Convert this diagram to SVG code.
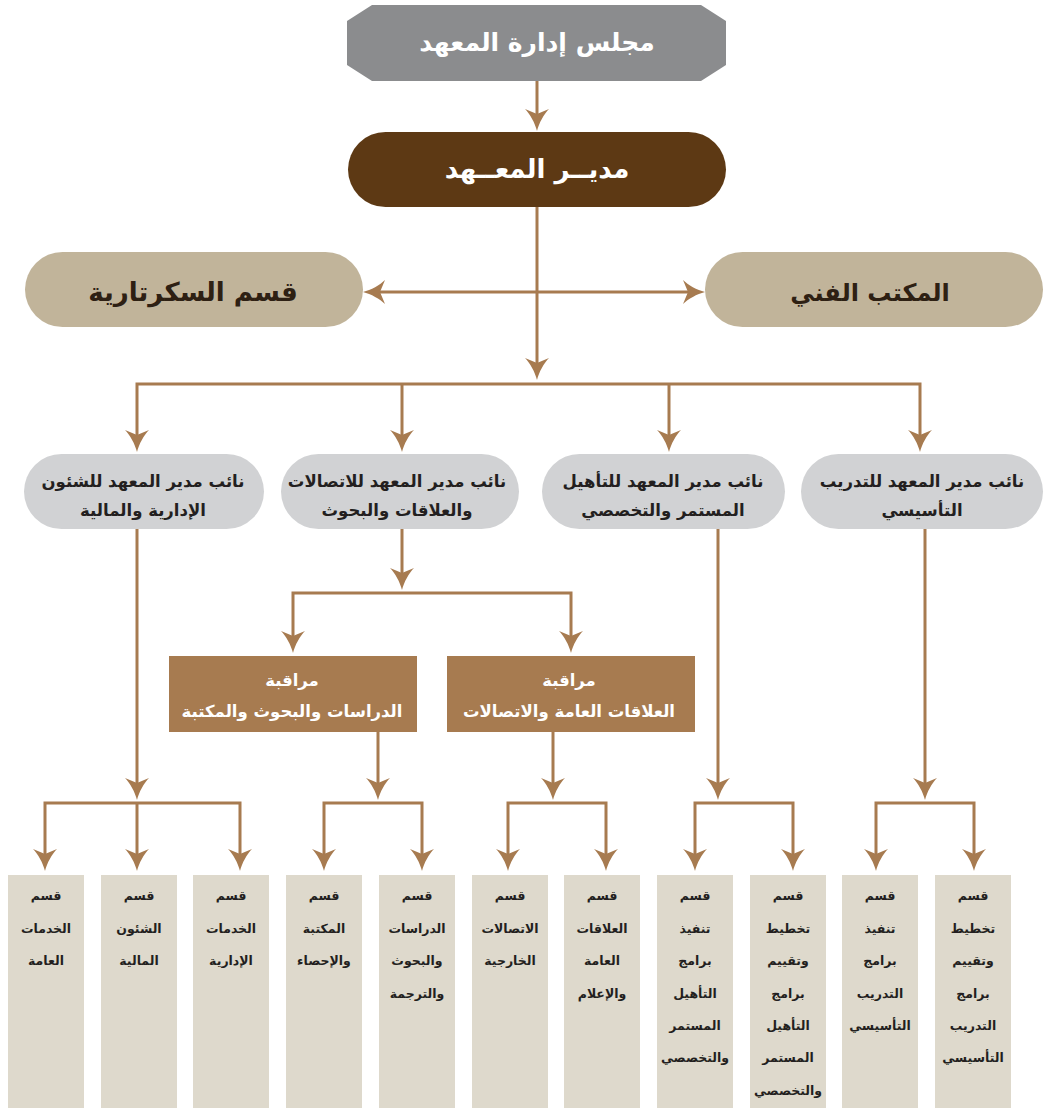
<svg xmlns="http://www.w3.org/2000/svg" width="1046" height="1108" viewBox="0 0 1046 1108">
<style>
.t{font-family:"DejaVu Sans","Noto Sans",sans-serif;font-weight:bold;text-anchor:middle}
.w{fill:#ffffff}
.d{fill:#231f20}
.c{fill:none;stroke:#a77b50;stroke-width:3;stroke-linejoin:miter}
.a{marker-end:url(#ah)}
.s{marker-start:url(#as)}
.bx{fill:#ded9cc}
.bt{font-size:12.5px}
.pt{font-size:16.5px}
.mt{font-size:16.5px}
</style>
<defs>
<marker id="ah" markerUnits="userSpaceOnUse" viewBox="-6 -13 24 26" refX="0" refY="0" markerWidth="24" markerHeight="26" orient="auto">
<path d="M17,0 C9,-2 0,-7 -5,-12 L0,0 L-5,12 C0,7 9,2 17,0 Z" fill="#a77b50"/>
</marker>
<marker id="as" markerUnits="userSpaceOnUse" viewBox="-6 -13 24 26" refX="0" refY="0" markerWidth="24" markerHeight="26" orient="auto-start-reverse">
<path d="M17,0 C9,-2 0,-7 -5,-12 L0,0 L-5,12 C0,7 9,2 17,0 Z" fill="#a77b50"/>
</marker>
</defs>

<g id="connectors">
<path class="c a" d="M537,81 V114"/>
<path class="c a" d="M537,206 V363"/>
<path class="c a s" d="M380,292 H688"/>
<path class="c a s" d="M137,435 V384 H920 V435"/>
<path class="c a" d="M402,384 V435"/>
<path class="c a" d="M669,384 V435"/>
<path class="c a" d="M402,529 V573"/>
<path class="c a s" d="M293,636 V593 H571 V636"/>
<path class="c a" d="M137,529 V783"/>
<path class="c a" d="M378,732 V783"/>
<path class="c a" d="M553,732 V783"/>
<path class="c a" d="M718,529 V783"/>
<path class="c a" d="M925,529 V783"/>
<path class="c a s" d="M45,854 V803 H240 V854"/>
<path class="c a" d="M137,803 V854"/>
<path class="c a s" d="M324,854 V803 H422 V854"/>
<path class="c a s" d="M508,854 V803 H606 V854"/>
<path class="c a s" d="M695,854 V803 H793 V854"/>
<path class="c a s" d="M876,854 V803 H974 V854"/>
</g>

<g id="board">
<polygon points="372,5 701,5 726,21 726,65 701,81 372,81 347,65 347,21" fill="#8b8c8e"/>
<text class="t w" x="537" y="51" font-size="25">مجلس إدارة المعهد</text>
</g>
<g id="director">
<rect x="348" y="132" width="378" height="75" rx="37.5" fill="#5d3914"/>
<text class="t w" x="537" y="178" font-size="26">مديــر المعــهد</text>
</g>
<g id="secretary">
<rect x="25" y="252" width="338" height="75" rx="37.5" fill="#c1b49a"/>
<text class="t" x="193" y="301" font-size="26" fill="#2e2013">قسم السكرتارية</text>
</g>
<g id="technical">
<rect x="705" y="252" width="338" height="75" rx="37.5" fill="#c1b49a"/>
<text class="t" x="870" y="301" font-size="24" fill="#2e2013">المكتب الفني</text>
</g>

<g id="dep-admin">
<rect x="24" y="454" width="240" height="75" rx="37.5" fill="#d1d2d4"/>
<text class="t d pt" x="143" y="487">نائب مدير المعهد للشئون</text>
<text class="t d pt" x="143" y="516">الإدارية والمالية</text>
</g>
<g id="dep-comm">
<rect x="281" y="454" width="238" height="75" rx="37.5" fill="#d1d2d4"/>
<text class="t d pt" x="397" y="487">نائب مدير المعهد للاتصالات</text>
<text class="t d pt" x="397" y="516">والعلاقات والبحوث</text>
</g>
<g id="dep-cont">
<rect x="542" y="454" width="243" height="75" rx="37.5" fill="#d1d2d4"/>
<text class="t d pt" x="663" y="487">نائب مدير المعهد للتأهيل</text>
<text class="t d pt" x="663" y="516">المستمر والتخصصي</text>
</g>
<g id="dep-train">
<rect x="801" y="454" width="242" height="75" rx="37.5" fill="#d1d2d4"/>
<text class="t d pt" x="922" y="487">نائب مدير المعهد للتدريب</text>
<text class="t d pt" x="922" y="516">التأسيسي</text>
</g>

<g id="mon-studies">
<rect x="169" y="656" width="248" height="76" fill="#a77b50"/>
<text class="t w mt" x="292" y="686">مراقبة</text>
<text class="t w mt" x="292" y="717">الدراسات والبحوث والمكتبة</text>
</g>
<g id="mon-relations">
<rect x="447" y="656" width="248" height="76" fill="#a77b50"/>
<text class="t w mt" x="569" y="686">مراقبة</text>
<text class="t w mt" x="569" y="717">العلاقات العامة والاتصالات</text>
</g>

<g id="sec-general">
<rect class="bx" x="8" y="875" width="76" height="233"/>
<text class="t d bt" x="46"><tspan x="46" y="900">قسم</tspan><tspan x="46" y="933">الخدمات</tspan><tspan x="46" y="965">العامة</tspan></text>
</g>
<g id="sec-finance">
<rect class="bx" x="101" y="875" width="76" height="233"/>
<text class="t d bt" x="139"><tspan x="139" y="900">قسم</tspan><tspan x="139" y="933">الشئون</tspan><tspan x="139" y="965">المالية</tspan></text>
</g>
<g id="sec-admin">
<rect class="bx" x="193" y="875" width="76" height="233"/>
<text class="t d bt" x="231"><tspan x="231" y="900">قسم</tspan><tspan x="231" y="933">الخدمات</tspan><tspan x="231" y="965">الإدارية</tspan></text>
</g>
<g id="sec-library">
<rect class="bx" x="286" y="875" width="76" height="233"/>
<text class="t d bt" x="324"><tspan x="324" y="900">قسم</tspan><tspan x="324" y="933">المكتبة</tspan><tspan x="324" y="965">والإحصاء</tspan></text>
</g>
<g id="sec-studies">
<rect class="bx" x="379" y="875" width="76" height="233"/>
<text class="t d bt" x="417"><tspan x="417" y="900">قسم</tspan><tspan x="417" y="933">الدراسات</tspan><tspan x="417" y="965">والبحوث</tspan><tspan x="417" y="998">والترجمة</tspan></text>
</g>
<g id="sec-external">
<rect class="bx" x="472" y="875" width="76" height="233"/>
<text class="t d bt" x="510"><tspan x="510" y="900">قسم</tspan><tspan x="510" y="933">الاتصالات</tspan><tspan x="510" y="965">الخارجية</tspan></text>
</g>
<g id="sec-pr">
<rect class="bx" x="564" y="875" width="76" height="233"/>
<text class="t d bt" x="602"><tspan x="602" y="900">قسم</tspan><tspan x="602" y="933">العلاقات</tspan><tspan x="602" y="965">العامة</tspan><tspan x="602" y="998">والإعلام</tspan></text>
</g>
<g id="sec-cont-exec">
<rect class="bx" x="657" y="875" width="76" height="233"/>
<text class="t d bt" x="695"><tspan x="695" y="900">قسم</tspan><tspan x="695" y="933">تنفيذ</tspan><tspan x="695" y="965">برامج</tspan><tspan x="695" y="998">التأهيل</tspan><tspan x="695" y="1030">المستمر</tspan><tspan x="695" y="1062">والتخصصي</tspan></text>
</g>
<g id="sec-cont-plan">
<rect class="bx" x="750" y="875" width="76" height="233"/>
<text class="t d bt" x="788"><tspan x="788" y="900">قسم</tspan><tspan x="788" y="933">تخطيط</tspan><tspan x="788" y="965">وتقييم</tspan><tspan x="788" y="998">برامج</tspan><tspan x="788" y="1030">التأهيل</tspan><tspan x="788" y="1062">المستمر</tspan><tspan x="788" y="1095">والتخصصي</tspan></text>
</g>
<g id="sec-train-exec">
<rect class="bx" x="842" y="875" width="76" height="233"/>
<text class="t d bt" x="880"><tspan x="880" y="900">قسم</tspan><tspan x="880" y="933">تنفيذ</tspan><tspan x="880" y="965">برامج</tspan><tspan x="880" y="998">التدريب</tspan><tspan x="880" y="1030">التأسيسي</tspan></text>
</g>
<g id="sec-train-plan">
<rect class="bx" x="935" y="875" width="76" height="233"/>
<text class="t d bt" x="973"><tspan x="973" y="900">قسم</tspan><tspan x="973" y="933">تخطيط</tspan><tspan x="973" y="965">وتقييم</tspan><tspan x="973" y="998">برامج</tspan><tspan x="973" y="1030">التدريب</tspan><tspan x="973" y="1062">التأسيسي</tspan></text>
</g>
</svg>
